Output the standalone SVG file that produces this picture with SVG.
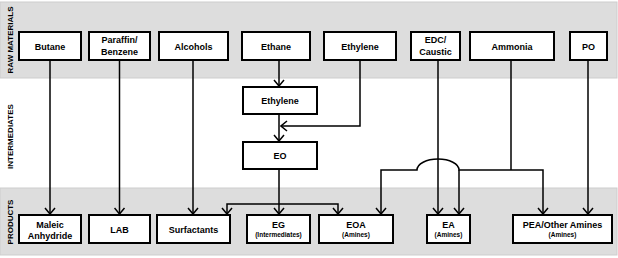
<svg xmlns="http://www.w3.org/2000/svg" width="618" height="258" viewBox="0 0 618 258">
<style>
.band{fill:#dddddd;stroke:#cdcdcd;stroke-width:1}
.box{fill:#ffffff;stroke:#000000;stroke-width:2}
.t{font-family:"Liberation Sans",Arial,sans-serif;font-weight:bold;font-size:9px;fill:#000;text-anchor:middle}
.s{font-family:"Liberation Sans",Arial,sans-serif;font-weight:bold;font-size:6.5px;fill:#000;text-anchor:middle}
.lab{font-family:"Liberation Sans",Arial,sans-serif;font-weight:bold;font-size:8px;fill:#000;text-anchor:middle}
.c{fill:none;stroke:#000;stroke-width:1.5}
</style>
<defs>
<marker id="arr" viewBox="-7 -6 8 12" markerWidth="8" markerHeight="12" refX="0" refY="0" orient="auto" markerUnits="userSpaceOnUse">
<path d="M-6,-5 L0,0 L-6,5" fill="none" stroke="#000" stroke-width="1.5"/>
</marker>
</defs>
<g id="bands">
<rect class="band" x="0" y="2" width="617" height="76"/>
<rect class="band" x="0" y="188" width="617" height="67"/>
<text class="lab" transform="translate(12.5,40) rotate(-90)">RAW MATERIALS</text>
<text class="lab" transform="translate(12.5,136.5) rotate(-90)">INTERMEDIATES</text>
<text class="lab" transform="translate(12.5,222) rotate(-90)">PRODUCTS</text>
</g>
<g id="connectors">
<path class="c" d="M50 60 V214" marker-end="url(#arr)"/>
<path class="c" d="M119.5 60 V214" marker-end="url(#arr)"/>
<path class="c" d="M193 60 V214" marker-end="url(#arr)"/>
<path class="c" d="M279 60 V86" marker-end="url(#arr)"/>
<path class="c" d="M279 114 V141" marker-end="url(#arr)"/>
<path class="c" d="M360 60 V126 H281" marker-end="url(#arr)"/>
<path class="c" d="M279 169 V214" marker-end="url(#arr)"/>
<path class="c" d="M279 204 H227 V214" marker-end="url(#arr)"/>
<path class="c" d="M279 204 H338 V214" marker-end="url(#arr)"/>
<path class="c" d="M438 60 V214" marker-end="url(#arr)"/>
<path class="c" d="M511 60 V170"/>
<path class="c" d="M511 170 H459 A21 11 0 0 0 417 170 H381 V214" marker-end="url(#arr)"/>
<path class="c" d="M459 170 V214" marker-end="url(#arr)"/>
<path class="c" d="M511 170 H543 V214" marker-end="url(#arr)"/>
<path class="c" d="M588 60 V214" marker-end="url(#arr)"/>
</g>
<g id="butane"><rect class="box" x="19" y="32" width="62" height="28"/><text class="t" x="50" y="49.5">Butane</text></g>
<g id="paraffin"><rect class="box" x="89" y="32" width="61" height="28"/><text class="t" x="119.5" y="43">Paraffin/</text><text class="t" x="119.5" y="54.5">Benzene</text></g>
<g id="alcohols"><rect class="box" x="159" y="32" width="69" height="28"/><text class="t" x="193.5" y="49.5">Alcohols</text></g>
<g id="ethane"><rect class="box" x="242" y="32" width="68" height="28"/><text class="t" x="276" y="49.5">Ethane</text></g>
<g id="ethylene-raw"><rect class="box" x="324" y="32" width="72" height="28"/><text class="t" x="360" y="49.5">Ethylene</text></g>
<g id="edc"><rect class="box" x="411" y="32" width="49" height="28"/><text class="t" x="435.5" y="43">EDC/</text><text class="t" x="435.5" y="54.5">Caustic</text></g>
<g id="ammonia"><rect class="box" x="470" y="32" width="84" height="28"/><text class="t" x="512" y="49.5">Ammonia</text></g>
<g id="po"><rect class="box" x="570" y="32" width="37" height="28"/><text class="t" x="588.5" y="49.5">PO</text></g>
<g id="ethylene"><rect class="box" x="243" y="87" width="74" height="27"/><text class="t" x="280" y="103.8">Ethylene</text></g>
<g id="eo"><rect class="box" x="243" y="142" width="74" height="27"/><text class="t" x="280" y="158.8">EO</text></g>
<g id="maleic"><rect class="box" x="19" y="215" width="62" height="28"/><text class="t" x="50" y="228">Maleic</text><text class="t" x="50" y="239">Anhydride</text></g>
<g id="lab"><rect class="box" x="89" y="215" width="61" height="28"/><text class="t" x="119.5" y="232.5">LAB</text></g>
<g id="surfactants"><rect class="box" x="157" y="215" width="73" height="28"/><text class="t" x="193.5" y="232.5">Surfactants</text></g>
<g id="eg"><rect class="box" x="247" y="215" width="63" height="28"/><text class="t" x="278.5" y="228">EG</text><text class="s" x="278.5" y="237">(Intermediates)</text></g>
<g id="eoa"><rect class="box" x="319" y="215" width="74" height="28"/><text class="t" x="356" y="228">EOA</text><text class="s" x="356" y="237">(Amines)</text></g>
<g id="ea"><rect class="box" x="427" y="215" width="43" height="28"/><text class="t" x="448.5" y="228">EA</text><text class="s" x="448.5" y="237">(Amines)</text></g>
<g id="pea"><rect class="box" x="513" y="215" width="99" height="28"/><text class="t" x="562.5" y="228">PEA/Other Amines</text><text class="s" x="562.5" y="237">(Amines)</text></g>
</svg>
